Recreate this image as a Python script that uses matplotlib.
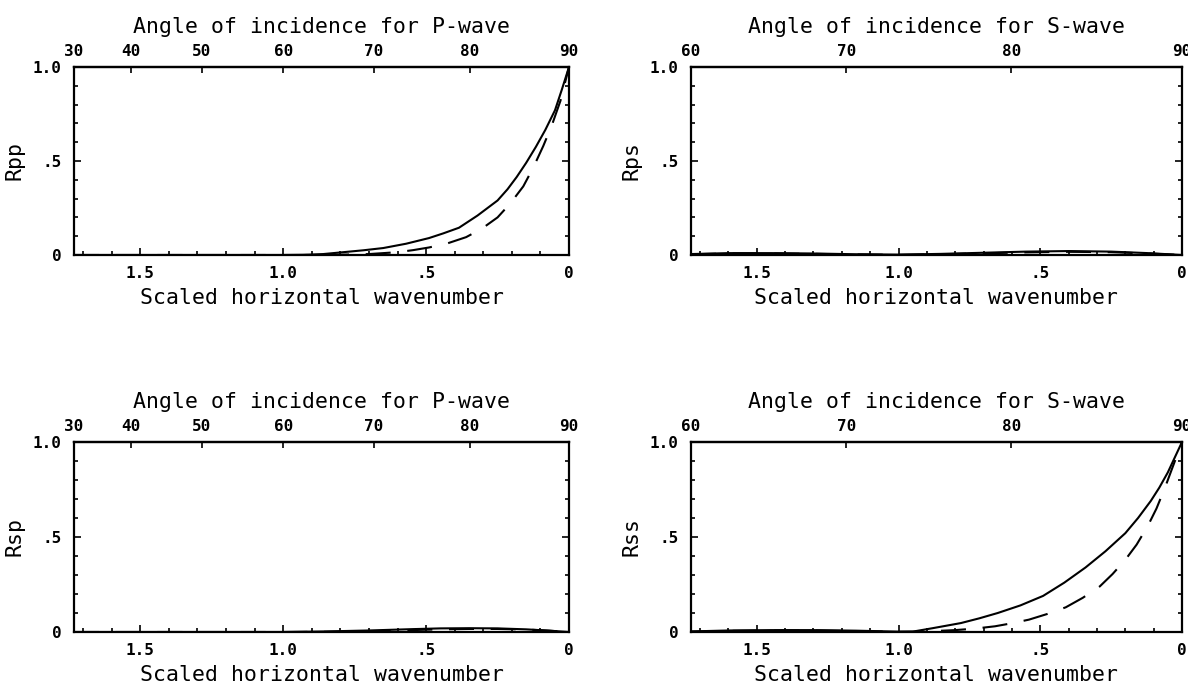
import numpy as np
import matplotlib
matplotlib.use("Agg")
import matplotlib.pyplot as plt
from matplotlib.ticker import FixedLocator, MultipleLocator, FuncFormatter

# scaled horizontal wavenumber (x) and coefficient magnitudes
rpp_k_solid = [1.732, 1.0, 0.93, 0.86, 0.79, 0.72, 0.65, 0.57, 0.49, 0.44, 0.385, 0.32, 0.25,
               0.215, 0.183, 0.15, 0.116, 0.083, 0.049, 0.025, 0.0]
rpp_v_solid = [0.0, 0.0, 0.001, 0.005, 0.015, 0.025, 0.037, 0.06, 0.09, 0.115, 0.145, 0.21, 0.29,
               0.35, 0.415, 0.49, 0.575, 0.665, 0.77, 0.88, 1.0]
rpp_k_dash = [1.732, 0.85, 0.7, 0.6, 0.545, 0.49, 0.425, 0.36, 0.305, 0.25, 0.205, 0.16, 0.125,
              0.09, 0.06, 0.03, 0.0]
rpp_v_dash = [0.0, 0.0, 0.005, 0.015, 0.026, 0.04, 0.062, 0.095, 0.14, 0.2, 0.275, 0.365, 0.465,
              0.58, 0.69, 0.82, 1.0]

rps_k = [1.732, 1.6, 1.45, 1.3, 1.15, 1.0, 0.85, 0.7, 0.55, 0.4, 0.25, 0.12, 0.0]
rps_v_solid = [0.005, 0.01, 0.01, 0.008, 0.004, 0.002, 0.006, 0.012, 0.018, 0.021, 0.018, 0.01, 0.0]
rps_v_dash = [0.004, 0.008, 0.008, 0.006, 0.003, 0.001, 0.004, 0.009, 0.014, 0.017, 0.015, 0.008, 0.0]

rsp_k = [1.732, 1.0, 0.85, 0.7, 0.55, 0.45, 0.35, 0.25, 0.15, 0.07, 0.0]
rsp_v_solid = [0.0, 0.0, 0.003, 0.008, 0.015, 0.019, 0.02, 0.019, 0.014, 0.007, 0.0]
rsp_v_dash = [0.0, 0.0, 0.001, 0.004, 0.01, 0.014, 0.016, 0.016, 0.013, 0.007, 0.0]

rss_k_solid = [1.732, 1.6, 1.45, 1.3, 1.15, 1.0, 0.95, 0.88, 0.78, 0.715, 0.65, 0.57, 0.49, 0.415,
               0.34, 0.27, 0.2, 0.155, 0.11, 0.08, 0.05, 0.025, 0.0]
rss_v_solid = [0.003, 0.008, 0.01, 0.01, 0.007, 0.002, 0.002, 0.02, 0.047, 0.072, 0.1, 0.14, 0.19, 0.26,
               0.34, 0.425, 0.52, 0.6, 0.69, 0.76, 0.84, 0.92, 1.0]
rss_k_dash = [1.732, 1.6, 1.45, 1.3, 1.15, 1.0, 0.9, 0.8, 0.73, 0.66, 0.6, 0.54, 0.475, 0.41, 0.35,
              0.29, 0.245, 0.2, 0.16, 0.12, 0.09, 0.06, 0.03, 0.0]
rss_v_dash = [0.002, 0.006, 0.008, 0.008, 0.005, 0.001, 0.003, 0.01, 0.018, 0.03, 0.046, 0.065, 0.095,
              0.13, 0.18, 0.24, 0.305, 0.38, 0.46, 0.56, 0.65, 0.76, 0.88, 1.0]

p_angles = [30, 40, 50, 60, 70, 80, 90]
s_angles = [60, 70, 80, 90]
x_major = [1.5, 1.0, 0.5, 0.0]
y_major = [0.0, 0.5, 1.0]

W, H = 1188, 685
MONO = "DejaVu Sans Mono"
KMAX = 1.73215   # sqrt(3), a hair over so the 30 / 60 degree ticks stay inside


def short_num(v, pos=None):
    """1.0 -> '1.0', 0.5 -> '.5', 0 -> '0' like the old plotter labels."""
    if abs(v) < 1e-9:
        return "0"
    s = f"{v:.1f}"
    return s[1:] if s.startswith("0") else s


def add_panel(fig, box, ylabel, top_title, angles, scale, curves):
    left, top, right, bottom = box
    ax = fig.add_axes([left / W, 1 - bottom / H, (right - left) / W, (bottom - top) / H])

    for k, v, ls in curves:
        if ls == "solid":
            ax.plot(k, v, color="black", lw=1.5)
        else:
            ax.plot(k, v, color="black", lw=1.5, linestyle=(0, (12, 8)))

    ax.set_xlim(KMAX, 0.0)
    ax.set_ylim(0.0, 1.0)
    for sp in ax.spines.values():
        sp.set_linewidth(1.6)

    ax.xaxis.set_major_locator(FixedLocator(x_major))
    ax.xaxis.set_minor_locator(MultipleLocator(0.1))
    ax.yaxis.set_major_locator(FixedLocator(y_major))
    ax.yaxis.set_minor_locator(MultipleLocator(0.1))
    ax.xaxis.set_major_formatter(FuncFormatter(short_num))
    ax.yaxis.set_major_formatter(FuncFormatter(short_num))
    ax.tick_params(which="both", direction="in", top=False, right=True, width=1.2)
    ax.tick_params(which="major", length=5)
    ax.tick_params(which="minor", length=3)
    ax.tick_params(axis="x", which="major", pad=8, labelsize=11.5)
    ax.tick_params(axis="y", which="major", pad=9, labelsize=11.5)
    for lab in ax.get_xticklabels() + ax.get_yticklabels():
        lab.set_fontfamily(MONO)
        lab.set_fontweight("bold")

    ax.set_xlabel("Scaled horizontal wavenumber", family=MONO, fontsize=15.5, labelpad=5)
    ax.set_ylabel(ylabel, family=MONO, fontsize=15.5, labelpad=6)

    # angle of incidence axis on top: k = scale * cos(angle)
    def fwd(k):
        return np.degrees(np.arccos(np.clip(np.asarray(k) / scale, -1, 1)))

    def inv(a):
        return scale * np.cos(np.radians(a))

    sec = ax.secondary_xaxis("top", functions=(fwd, inv))
    sec.set_xticks(angles)
    sec.xaxis.set_major_formatter(FuncFormatter(lambda v, p: f"{v:.0f}"))
    sec.tick_params(direction="in", length=4, width=1.2, pad=6, labelsize=11.5)
    for lab in sec.get_xticklabels():
        lab.set_fontfamily(MONO)
        lab.set_fontweight("bold")
    sec.spines["top"].set_linewidth(1.6)
    sec.set_xlabel(top_title, family=MONO, fontsize=15.5, labelpad=8)
    return ax


def main():
    plt.rcParams["font.family"] = MONO
    fig = plt.figure(figsize=(W / 100, H / 100), dpi=100)

    add_panel(fig, (74, 67, 569, 255), "Rpp", "Angle of incidence for P-wave", p_angles, 2.0,
              [(rpp_k_solid, rpp_v_solid, "solid"), (rpp_k_dash, rpp_v_dash, "dash")])
    add_panel(fig, (691, 67, 1182, 255), "Rps", "Angle of incidence for S-wave", s_angles, 2 * np.sqrt(3),
              [(rps_k, rps_v_solid, "solid"), (rps_k, rps_v_dash, "dash")])
    add_panel(fig, (74, 442, 569, 632), "Rsp", "Angle of incidence for P-wave", p_angles, 2.0,
              [(rsp_k, rsp_v_solid, "solid"), (rsp_k, rsp_v_dash, "dash")])
    add_panel(fig, (691, 442, 1182, 632), "Rss", "Angle of incidence for S-wave", s_angles, 2 * np.sqrt(3),
              [(rss_k_solid, rss_v_solid, "solid"), (rss_k_dash, rss_v_dash, "dash")])

    fig.savefig("out.png", dpi=100)


if __name__ == "__main__":
    main()
